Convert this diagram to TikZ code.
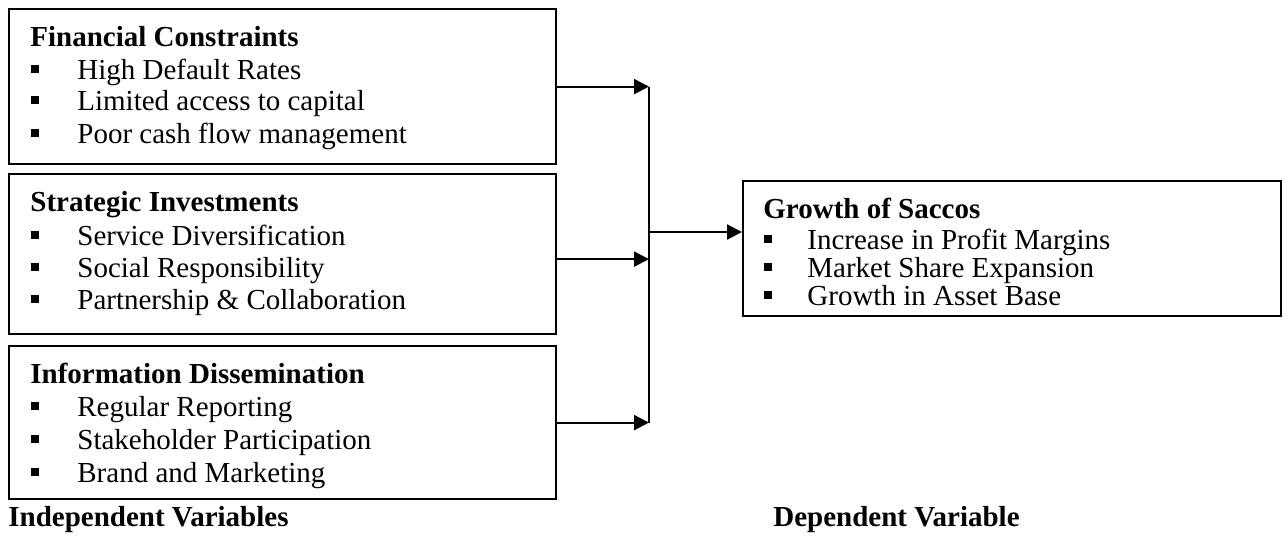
\documentclass[tikz,border=0pt]{standalone}
\usepackage{fontspec}
\setmainfont{Liberation Serif}
\usetikzlibrary{arrows.meta}
\begin{document}
\begin{tikzpicture}[x=0.5pt,y=-0.5pt,
  box/.style={draw, line width=1.1pt, anchor=north west, inner sep=0},
  ttl/.style={anchor=base west, font=\bfseries\fontsize{14.5}{16}\selectfont, inner sep=0},
  itm/.style={anchor=base west, font=\fontsize{14.5}{16}\selectfont, inner sep=0},
  bul/.style={fill, minimum size=3.6pt, inner sep=0},
  arr/.style={line width=1.1pt, -{Triangle[length=7.5pt,width=7.5pt]}},
  con/.style={line width=1.1pt}]
\useasboundingbox (0,0) rectangle (1288,536);
% boxes
\node[box, minimum width=273.5pt, minimum height=77.5pt] (b1) at (8,8) {};
\node[box, minimum width=273.5pt, minimum height=80pt] (b2) at (8,173) {};
\node[box, minimum width=273.5pt, minimum height=76.5pt] (b3) at (8,345) {};
\node[box, minimum width=269pt, minimum height=67.5pt] (rb) at (742,180) {};
% box 1
\node[ttl] (t1) at (30,46) {Financial Constraints};
\node[bul] (p11) at (35,69) {};
\node[itm] (i11) at (77,79) {High Default Rates};
\node[bul] (p12) at (35,100) {};
\node[itm] (i12) at (77,110) {Limited access to capital};
\node[bul] (p13) at (35,133) {};
\node[itm] (i13) at (77,143) {Poor cash flow management};
% box 2
\node[ttl] (t2) at (30,211) {Strategic Investments};
\node[bul] (p21) at (35,235) {};
\node[itm] (i21) at (77,245) {Service Diversification};
\node[bul] (p22) at (35,267) {};
\node[itm] (i22) at (77,277) {Social Responsibility};
\node[bul] (p23) at (35,299) {};
\node[itm] (i23) at (77,309) {Partnership \& Collaboration};
% box 3
\node[ttl] (t3) at (30,383) {Information Dissemination};
\node[bul] (p31) at (35,406) {};
\node[itm] (i31) at (77,416) {Regular Reporting};
\node[bul] (p32) at (35,439) {};
\node[itm] (i32) at (77,449) {Stakeholder Participation};
\node[bul] (p33) at (35,472) {};
\node[itm] (i33) at (77,482) {Brand and Marketing};
% right box
\node[ttl] (t4) at (763,218) {Growth of Saccos};
\node[bul] (p41) at (768,239) {};
\node[itm] (i41) at (807,249) {Increase in Profit Margins};
\node[bul] (p42) at (768,267) {};
\node[itm] (i42) at (807,277) {Market Share Expansion};
\node[bul] (p43) at (768,295) {};
\node[itm] (i43) at (807,305) {Growth in Asset Base};
% labels
\node[ttl] (l1) at (8,526) {Independent Variables};
\node[ttl] (l2) at (773,526) {Dependent Variable};
% connectors
\coordinate (j) at (649,232);
\draw[arr] (b1.east) -- (b1.east -| j);
\draw[arr] ([yshift=-2.5pt]b2.east) -- ([yshift=-2.5pt]b2.east -| j);
\draw[arr] (b3.east) -- (b3.east -| j);
\draw[con] (b1.east -| j) -- (b3.east -| j);
\draw[arr] (j) -- (j -| rb.west);
\end{tikzpicture}
\end{document}
